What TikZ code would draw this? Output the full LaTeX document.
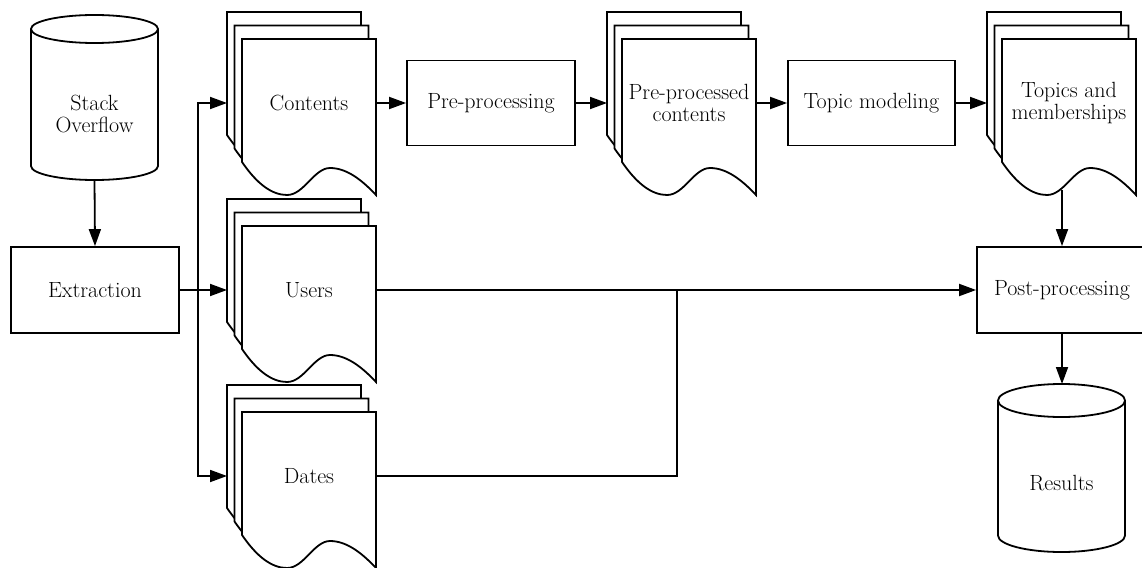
\documentclass[tikz,border=0pt]{standalone}
\usepackage{fontspec}
\setmainfont{Latin Modern Roman}
\usetikzlibrary{arrows.meta}
\tikzset{
  every path/.style={line width=1.8pt},
  txt/.style={font=\fontsize{22}{21.5}\selectfont, align=center, inner sep=0pt},
  procbox/.style={draw, fill=white, line width=1.8pt, inner sep=0pt, font=\fontsize{22}{21.5}\selectfont, align=center},
  arr/.style={-{Triangle[length=17pt,width=12pt]}, line width=1.8pt},
  plainline/.style={line width=1.8pt}
}
\newcommand\sheetpath{\draw[fill=white, line width=1.8pt] (0,0) -- (134,0) -- (134,-156)
  .. controls (119,-140) and (104,-129) .. (88,-129)
  .. controls (72,-129) and (62,-156) .. (45,-156)
  .. controls (30,-156) and (15,-145) .. (0,-123) -- cycle;}
\newcommand\docstack[4]{%
  \pgfmathsetmacro\dsx{#2}\pgfmathsetmacro\dsy{#3}%
  \begin{scope}[shift={(\dsx-15,-\dsy+27)}]\sheetpath\end{scope}
  \begin{scope}[shift={(\dsx-7.5,-\dsy+13.5)}]\sheetpath\end{scope}
  \begin{scope}[shift={(\dsx,-\dsy)}]\sheetpath\end{scope}
  \node[txt] (#1) at (\dsx+67,-\dsy-64) {#4};
  \coordinate (#1-in) at (\dsx-15,-\dsy-64);
  \coordinate (#1-out) at (\dsx+134,-\dsy-64);
}
\begin{document}
\begin{tikzpicture}[x=1pt,y=1pt]
\useasboundingbox (0,0) rectangle (1142,-567);
\fill[white] (0,0) rectangle (1142,-567);

% Stack Overflow cylinder
\draw[fill=white] (31,-29) -- (31,-166) arc[start angle=180,end angle=360,x radius=63.5,y radius=14]
  -- (158,-29) arc[start angle=0,end angle=180,x radius=63.5,y radius=14] -- cycle;
\draw (31,-29) arc[start angle=180,end angle=360,x radius=63.5,y radius=14];
\node[txt] (so) at (94.5,-114) {Stack\\Overflow};
\coordinate (so-bot) at (94.5,-180);

% Extraction
\node[procbox, minimum width=168pt, minimum height=86pt] (ext) at (95,-290) {Extraction};

% Document stacks
\docstack{contents}{242}{39}{Contents}
\docstack{users}{242}{226}{Users}
\docstack{dates}{242}{412}{Dates}
\docstack{ppc}{622}{39}{Pre-processed\\contents}
\docstack{topics}{1002}{39}{Topics and\\memberships}

% Process boxes
\node[procbox, minimum width=168pt, minimum height=85pt] (pre) at (491,-103) {Pre-processing};
\node[procbox, minimum width=167pt, minimum height=85pt] (tm) at (871.5,-103) {Topic modeling};
\node[procbox, minimum width=170pt, minimum height=86pt] (post) at (1062,-290) {Post-processing};

% Results cylinder
\draw[fill=white] (998,-400.5) -- (998,-535.5) arc[start angle=180,end angle=360,x radius=63.5,y radius=16.5]
  -- (1125,-400.5) arc[start angle=0,end angle=180,x radius=63.5,y radius=16.5] -- cycle;
\draw (998,-400.5) arc[start angle=180,end angle=360,x radius=63.5,y radius=16.5];
\node[txt] (res) at (1061.5,-483) {Results};
\coordinate (res-top) at (1062,-384);

% Connectors
\coordinate (split) at (198,-290);
\coordinate (join) at (677,-290);
\coordinate (topics-bot) at (1062,-190);

\draw[arr] (so-bot) -- (ext.north);
\draw[plainline] (ext.east) -- (split);
\draw[arr] (split) |- (contents-in);
\draw[arr] (split) -- (users-in);
\draw[arr] (split) |- (dates-in);
\draw[arr] (contents-out) -- (pre.west);
\draw[arr] (pre.east) -- (ppc-in);
\draw[arr] (ppc-out) -- (tm.west);
\draw[arr] (tm.east) -- (topics-in);
\draw[arr] (topics-bot) -- (post.north);
\draw[arr] (users-out) -- (post.west);
\draw[plainline] (dates-out) -| (join);
\draw[arr] (post.south) -- (res-top);
\end{tikzpicture}
\end{document}
